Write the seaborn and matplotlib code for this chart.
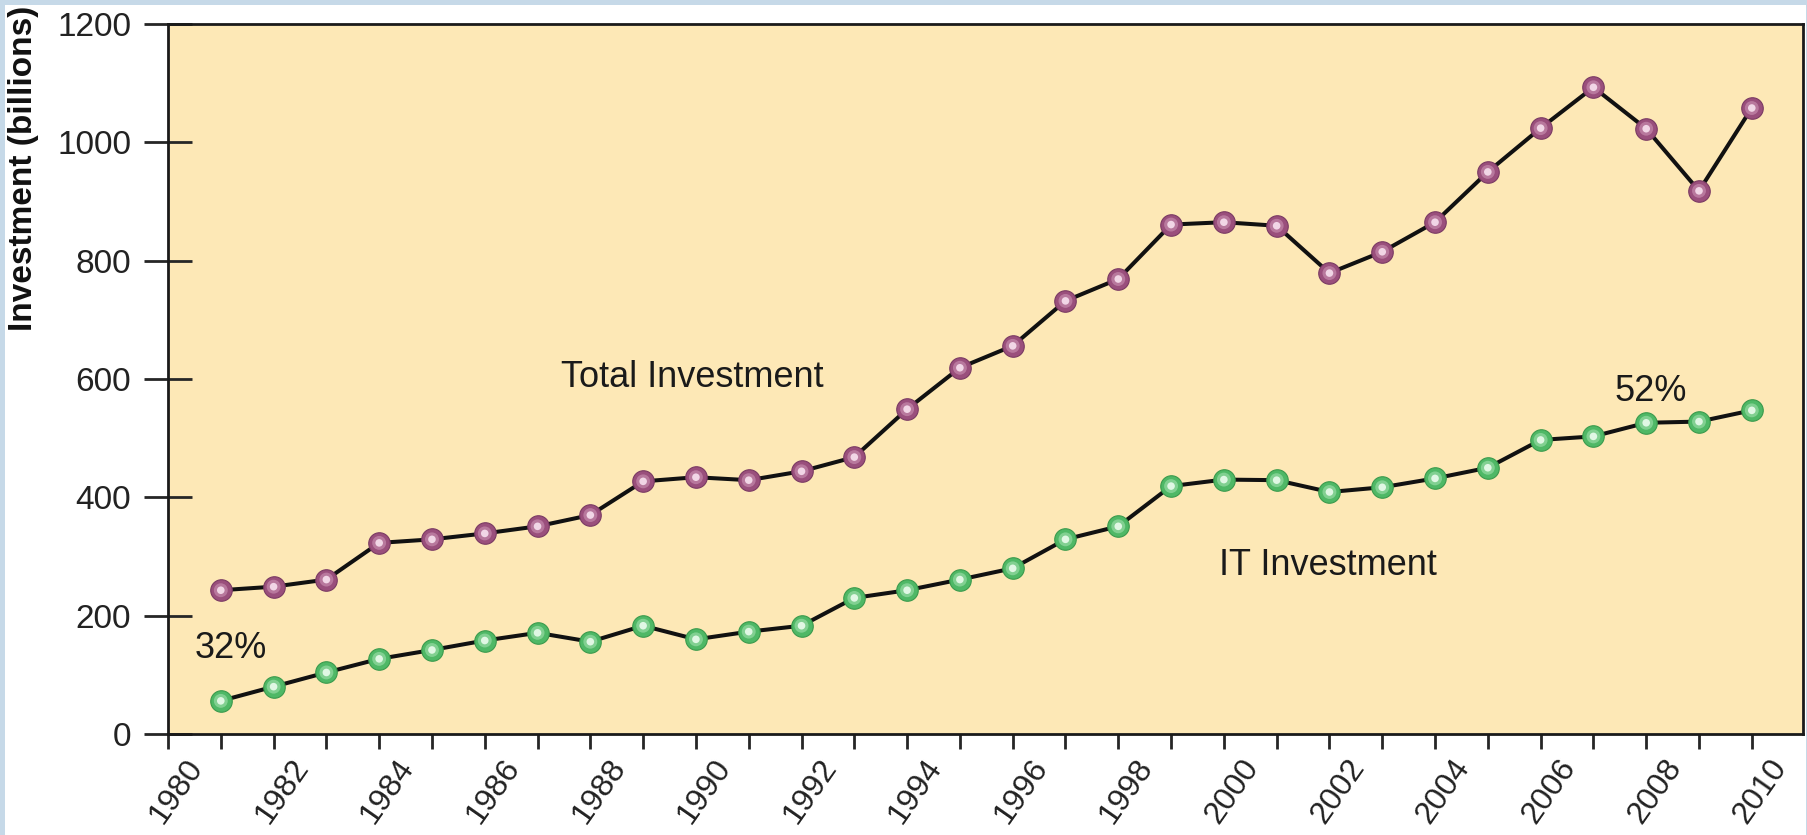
import numpy as np
import pandas as pd
import matplotlib
matplotlib.use("Agg")
import matplotlib.pyplot as plt
import matplotlib.patches as mpatches
import matplotlib.transforms as mtransforms
import seaborn as sns

# ── Data ──────────────────────────────────────────────────────────────────────
years = list(range(1981, 2011))
total_investment = [243, 249, 261, 323, 329, 339, 351, 370, 427, 434,
                    429, 444, 468, 549, 619, 656, 732, 769, 861, 865,
                    859, 779, 815, 865, 950, 1024, 1093, 1023, 918, 1058]
it_investment = [56, 80, 104, 127, 142, 158, 171, 156, 183, 160,
                 173, 183, 230, 243, 261, 280, 329, 351, 419, 430,
                 429, 409, 417, 432, 450, 497, 503, 526, 528, 547]
x_ticks = list(range(1980, 2011))
x_labels = [str(y) if y % 2 == 0 else "" for y in x_ticks]
y_ticks = [0, 200, 400, 600, 800, 1000, 1200]

# ── Style ─────────────────────────────────────────────────────────────────────
FACE = "#fde8b6"
TXT = "#1a1a1a"
# (base, edge, mid-tone, highlight) for the shaded "bead" markers
PURPLE = ("#9a4f7c", "#7a3a63", "#c083a6", "#f1d6e6")
GREEN = ("#4fb866", "#3a9a4c", "#8ed79c", "#e0f7e4")

sns.set_style("ticks")
plt.rcParams["font.family"] = ["Liberation Sans", "DejaVu Sans"]

fig = plt.figure(figsize=(18.08, 8.35), dpi=100)
fig.patch.set_facecolor("#c6d9e8")
fig.patches.append(mpatches.Rectangle((5 / 1808, 0), 1801 / 1808, 830 / 835,
                                      transform=fig.transFigure,
                                      facecolor="white", edgecolor="none",
                                      zorder=-10))
ax = fig.add_axes([168 / 1808, 1 - 734 / 835, 1635 / 1808, 710 / 835])
ax.set_facecolor(FACE)

df = pd.DataFrame({"year": years, "total": total_investment, "it": it_investment})

for col, (base, edge, mid, hl) in [("total", PURPLE), ("it", GREEN)]:
    sns.lineplot(data=df, x="year", y=col, ax=ax, color="#111111",
                 linewidth=2.9, zorder=3)
    sns.scatterplot(data=df, x="year", y=col, ax=ax, s=240, color=base,
                    edgecolor=edge, linewidth=0.8, zorder=4)
    sns.scatterplot(data=df, x="year", y=col, ax=ax, s=100, color=mid,
                    edgecolor="none", linewidth=0, alpha=0.8, zorder=5)
    sns.scatterplot(data=df, x="year", y=col, ax=ax, s=30, color=hl,
                    edgecolor="none", linewidth=0, zorder=6)

ax.set_xlim(1980, 2010.97)
ax.set_ylim(0, 1200)
ax.set_xticks(x_ticks)
ax.set_xticklabels(x_labels, rotation=55, ha="right", va="top",
                   rotation_mode="anchor", fontsize=23, color="#222222")
ax.set_yticks(y_ticks)
ax.set_yticklabels([str(v) for v in y_ticks], fontsize=24, color="#222222")
ax.tick_params(axis="x", direction="out", length=11, width=2, pad=3)
ax.tick_params(axis="y", direction="inout", length=35, width=2, pad=9)
for lab in ax.get_xticklabels():
    lab.set_transform(lab.get_transform() +
                      mtransforms.ScaledTranslation(12 / 72, 0, fig.dpi_scale_trans))

for sp in ax.spines.values():
    sp.set_visible(True)
    sp.set_linewidth(2)
    sp.set_color("#1a1a1a")

ax.set_xlabel("")
ax.set_ylabel("")
fig.text(8 / 1808, 1 - 168 / 835, "Investment (billions)", rotation=90,
         fontsize=24, fontweight="bold", color="#111111", ha="left", va="center")

ax.text(1987.45, 602, "Total Investment", fontsize=26, color=TXT,
        ha="left", va="center")
ax.text(1999.9, 284, "IT Investment", fontsize=26, color=TXT,
        ha="left", va="center")
ax.text(1980.5, 144, "32%", fontsize=26, color=TXT, ha="left", va="center")
ax.text(2007.4, 579, "52%", fontsize=26, color=TXT, ha="left", va="center")

fig.savefig("out.png", dpi=100, facecolor=fig.get_facecolor())
